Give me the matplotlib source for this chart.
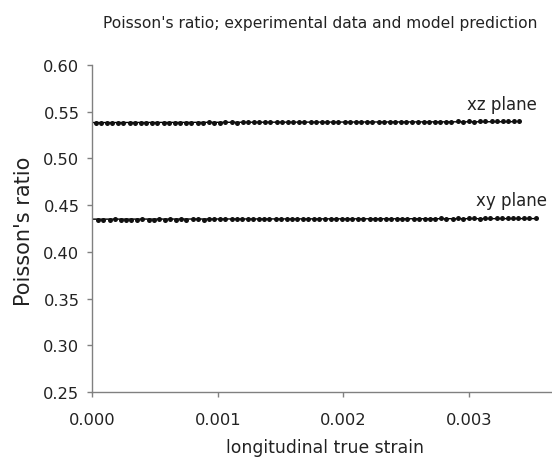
import matplotlib
matplotlib.use("Agg")
import matplotlib.pyplot as plt

plt.rcParams['font.family'] = ['DejaVu Sans']

title = "Poisson's ratio; experimental data and model prediction"
xlabel = "longitudinal true strain"
ylabel = "Poisson's ratio"
xticks = [0.000, 0.001, 0.002, 0.003]
yticks = [0.25, 0.30, 0.35, 0.40, 0.45, 0.50, 0.55, 0.60]

xz_strain = [
    0.00003, 0.00007, 0.00012, 0.00016, 0.00021, 0.00025, 0.00030, 0.00034, 0.00039, 0.00043,
    0.00048, 0.00052, 0.00057, 0.00061, 0.00066, 0.00070, 0.00075, 0.00079, 0.00084, 0.00088,
    0.00093, 0.00097, 0.00102, 0.00106, 0.00111, 0.00115, 0.00120, 0.00124, 0.00129, 0.00133,
    0.00138, 0.00142, 0.00147, 0.00151, 0.00156, 0.00160, 0.00165, 0.00169, 0.00174, 0.00178,
    0.00183, 0.00187, 0.00192, 0.00196, 0.00201, 0.00205, 0.00210, 0.00214, 0.00219, 0.00223,
    0.00228, 0.00232, 0.00237, 0.00241, 0.00246, 0.00250, 0.00255, 0.00259, 0.00264, 0.00268,
    0.00273, 0.00277, 0.00282, 0.00286, 0.00291, 0.00295, 0.00300, 0.00304, 0.00309, 0.00313,
    0.00318, 0.00322, 0.00327, 0.00331, 0.00336, 0.00340]
xz_ratio = [
    0.5378, 0.5380, 0.5382, 0.5379, 0.5381, 0.5380, 0.5382, 0.5381, 0.5380, 0.5383,
    0.5381, 0.5382, 0.5380, 0.5383, 0.5382, 0.5384, 0.5383, 0.5382, 0.5384, 0.5383,
    0.5385, 0.5384, 0.5383, 0.5385, 0.5386, 0.5384, 0.5386, 0.5385, 0.5387, 0.5386,
    0.5385, 0.5387, 0.5388, 0.5386, 0.5388, 0.5387, 0.5389, 0.5388, 0.5387, 0.5389,
    0.5390, 0.5388, 0.5390, 0.5389, 0.5391, 0.5390, 0.5389, 0.5391, 0.5392, 0.5390,
    0.5392, 0.5391, 0.5393, 0.5392, 0.5391, 0.5393, 0.5394, 0.5392, 0.5394, 0.5393,
    0.5395, 0.5394, 0.5393, 0.5395, 0.5396, 0.5394, 0.5396, 0.5395, 0.5397, 0.5396,
    0.5398, 0.5397, 0.5399, 0.5398, 0.5400, 0.5401]

xy_strain = [
    0.00005, 0.00009, 0.00014, 0.00018, 0.00023, 0.00027, 0.00031, 0.00036, 0.00040, 0.00045,
    0.00049, 0.00053, 0.00058, 0.00062, 0.00067, 0.00071, 0.00075, 0.00080, 0.00084, 0.00089,
    0.00093, 0.00097, 0.00102, 0.00106, 0.00111, 0.00115, 0.00119, 0.00124, 0.00128, 0.00133,
    0.00137, 0.00141, 0.00146, 0.00150, 0.00155, 0.00159, 0.00163, 0.00168, 0.00172, 0.00177,
    0.00181, 0.00185, 0.00190, 0.00194, 0.00199, 0.00203, 0.00207, 0.00212, 0.00216, 0.00221,
    0.00225, 0.00229, 0.00234, 0.00238, 0.00243, 0.00247, 0.00251, 0.00256, 0.00260, 0.00265,
    0.00269, 0.00273, 0.00278, 0.00282, 0.00287, 0.00291, 0.00295, 0.00300, 0.00304, 0.00309,
    0.00313, 0.00317, 0.00322, 0.00326, 0.00331, 0.00335, 0.00339, 0.00344, 0.00348, 0.00353]
xy_ratio = [
    0.4344, 0.4346, 0.4345, 0.4347, 0.4345, 0.4346, 0.4344, 0.4346, 0.4347, 0.4345,
    0.4346, 0.4347, 0.4345, 0.4347, 0.4346, 0.4348, 0.4346, 0.4347, 0.4348, 0.4346,
    0.4348, 0.4347, 0.4349, 0.4348, 0.4347, 0.4349, 0.4348, 0.4350, 0.4349, 0.4348,
    0.4350, 0.4349, 0.4351, 0.4350, 0.4349, 0.4351, 0.4350, 0.4352, 0.4351, 0.4350,
    0.4352, 0.4351, 0.4353, 0.4352, 0.4351, 0.4353, 0.4352, 0.4354, 0.4353, 0.4352,
    0.4354, 0.4353, 0.4355, 0.4354, 0.4353, 0.4355, 0.4354, 0.4356, 0.4355, 0.4354,
    0.4356, 0.4355, 0.4357, 0.4356, 0.4355, 0.4357, 0.4356, 0.4358, 0.4357, 0.4356,
    0.4358, 0.4357, 0.4359, 0.4358, 0.4357, 0.4359, 0.4358, 0.4360, 0.4359, 0.4360]

xz_model_strain = [0.0, 0.00334]
xz_model_ratio = [0.5384, 0.5393]
xy_model_strain = [0.0, 0.00354]
xy_model_ratio = [0.4350, 0.4356]

labels = ["xz plane", "xy plane"]
label_pos = [(0.00298, 0.5525), (0.003055, 0.4497)]

fig = plt.figure(figsize=(5.52, 4.60), dpi=100)
ax = fig.add_axes([0.1667, 0.1457, 0.8333, 0.7108])

ax.plot(xz_model_strain, xz_model_ratio, color='black', lw=1.0)
ax.plot(xy_model_strain, xy_model_ratio, color='black', lw=1.0)
ax.plot(xz_strain, xz_ratio, 'o', color='#111111', ms=3.6, mew=0)
ax.plot(xy_strain, xy_ratio, 'o', color='#111111', ms=3.6, mew=0)

for lab, (x, y) in zip(labels, label_pos):
    ax.text(x, y, lab, fontsize=12, color='#222222', ha='left', va='baseline')

ax.set_xlim(0, 0.00366)
ax.set_ylim(0.25, 0.60)
ax.set_xticks(xticks)
ax.set_xticklabels([f"{t:.3f}" for t in xticks])
ax.set_yticks(yticks)
ax.set_yticklabels([f"{t:.2f}" for t in yticks])

for s in ['top', 'right']:
    ax.spines[s].set_visible(False)
for s in ['left', 'bottom']:
    ax.spines[s].set_color('#808080')
    ax.spines[s].set_linewidth(1.0)
ax.tick_params(axis='both', colors='#808080', labelcolor='#222222', labelsize=11.7,
               length=3.6, width=1.0, direction='out')
ax.tick_params(axis='x', pad=11)
ax.tick_params(axis='y', pad=5.5)

fig.text(0.589, 3 / 460, xlabel, fontsize=12.4, color='#222222',
         ha='center', va='bottom')
fig.text(0.0435, 0.497, ylabel, fontsize=15, color='#222222',
         ha='center', va='center', rotation=90)
fig.text(0.58, 1 - 28 / 460, title, fontsize=11.2, color='#222222',
         ha='center', va='baseline')

fig.savefig("out.png", dpi=100)
